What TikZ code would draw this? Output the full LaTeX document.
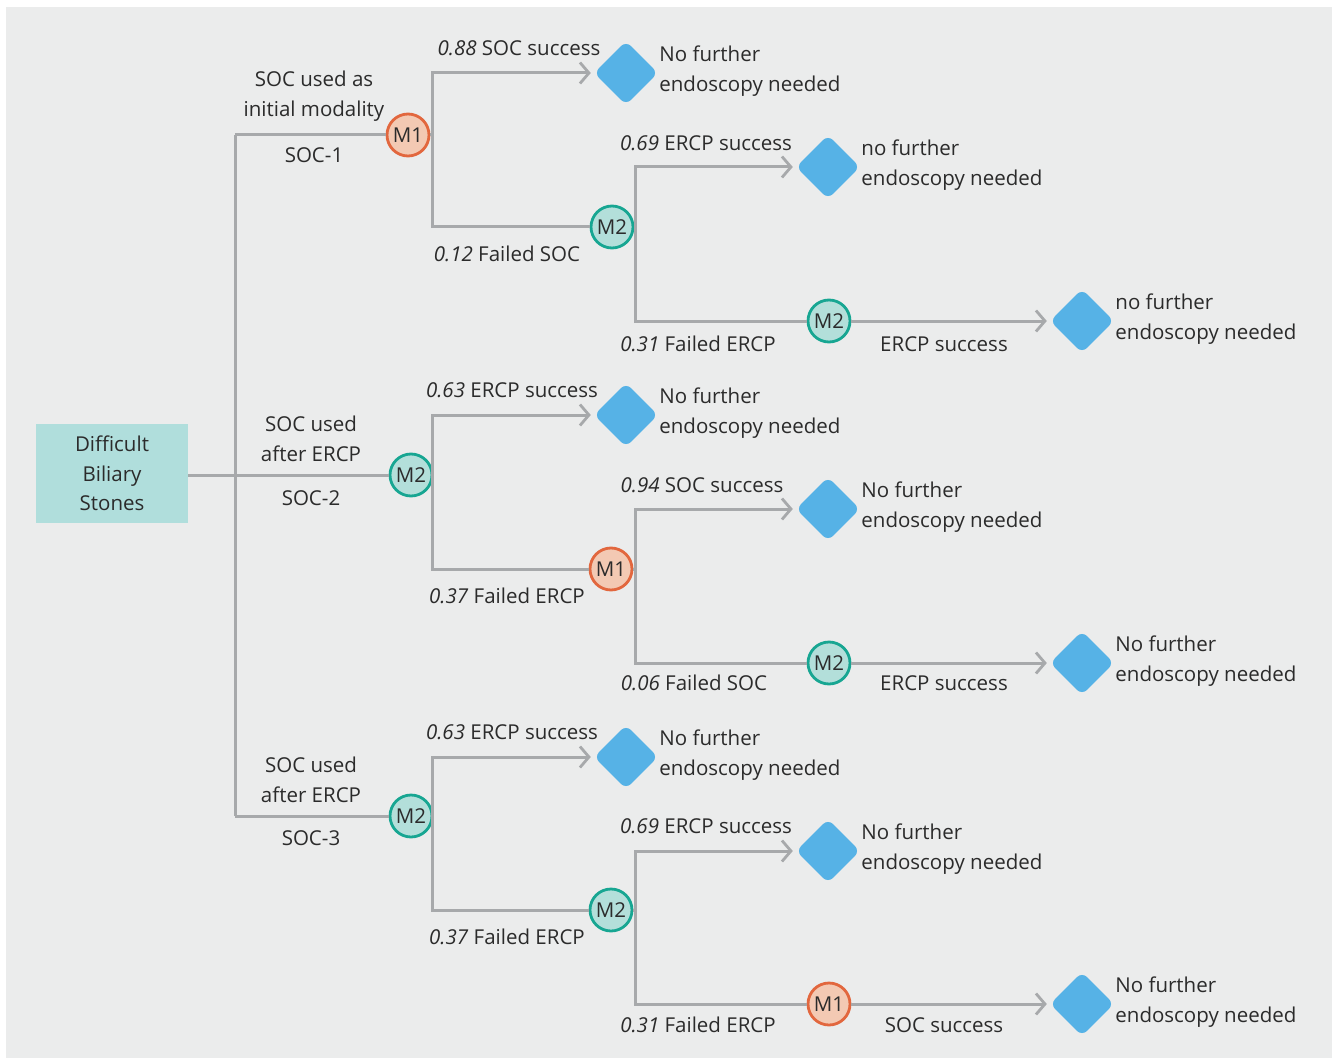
\documentclass[tikz,border=0pt]{standalone}
\usepackage{fontspec}
\setmainfont{Open Sans}
\usetikzlibrary{arrows.meta,shapes.geometric}
\definecolor{bgc}{HTML}{EBECEC}
\definecolor{boxc}{HTML}{B0DEDC}
\definecolor{linec}{HTML}{A7A9AB}
\definecolor{blu}{HTML}{56B2E6}
\definecolor{orng}{HTML}{E2673E}
\definecolor{orngf}{HTML}{F3C9B3}
\definecolor{teal}{HTML}{17A692}
\definecolor{tealf}{HTML}{B3DFDA}
\definecolor{txtc}{HTML}{2B2B2B}
\begin{document}
\begin{tikzpicture}[x=1pt,y=-1pt,
  font=\fontsize{20.5}{29.5}\selectfont,
  ln/.style={draw=linec, line width=3pt},
  arr/.style={ln, -{Straight Barb[length=9pt,width=21pt,line width=2.8pt]}, shorten >=3pt},
  mone/.style={circle, draw=orng, fill=orngf, line width=2.8pt, minimum size=42pt, inner sep=0pt, text=txtc},
  mtwo/.style={circle, draw=teal, fill=tealf, line width=2.8pt, minimum size=42pt, inner sep=0pt, text=txtc},
  dia/.style={diamond, fill=blu, minimum width=64pt, minimum height=64pt, inner sep=0pt, rounded corners=7pt},
  txt/.style={text=txtc, inner sep=0pt, align=center},
  outt/.style={text=txtc, inner sep=0pt, anchor=west, align=left, xshift=1pt, yshift=2pt}
]
\useasboundingbox (0,0) rectangle (1332,1059);
\fill[white] (0,0) rectangle (1332,1059);
\fill[bgc] (6,7) rectangle (1332,1058);

% root
\node[fill=boxc, minimum width=152pt, minimum height=99pt, inner sep=0pt, txt] (root) at (112,473.5) {Difficult\\Biliary\\Stones};

% trunk coordinates
\coordinate (t1) at (235,135);
\coordinate (t3) at (235,816);

% level 1 nodes
\node[mone] (a) at (408,135) {M1};
\node[mtwo] (b) at (411,475) {M2};
\node[mtwo] (c) at (411,816) {M2};

% level 2 nodes
\node[mtwo] (a2) at (612,227) {M2};
\node[mone] (b2) at (611,569) {M1};
\node[mtwo] (c2) at (611,910) {M2};

% level 3 nodes
\node[mtwo] (a3) at (829,321) {M2};
\node[mtwo] (b3) at (829,663) {M2};
\node[mone] (c3) at (829,1004) {M1};

% diamonds
\node[dia] (da1) at (626,73) {};
\node[dia] (da2) at (828,167) {};
\node[dia] (da3) at (1082,321) {};
\node[dia] (db1) at (626,415) {};
\node[dia] (db2) at (828,509) {};
\node[dia] (db3) at (1082,663) {};
\node[dia] (dc1) at (626,757) {};
\node[dia] (dc2) at (828,851) {};
\node[dia] (dc3) at (1082,1004) {};

% junction coordinates
\coordinate (ja) at (432,135);
\coordinate (jb) at (432,475);
\coordinate (jc) at (432,816);
\coordinate (ja2) at (635,227);
\coordinate (jb2) at (635,569);
\coordinate (jc2) at (635,910);

% connectors
\draw[ln] (t1) -- (t3);
\draw[ln] (t1) -- (a);
\draw[ln] (root.east |- b) -- (b);
\draw[ln] (t3) -- (c);

\draw[ln] (a) -- (ja);
\draw[arr] (ja) |- (da1.west);
\draw[ln] (ja) |- (a2);
\draw[ln] (a2) -- (ja2);
\draw[arr] (ja2) |- (da2.west);
\draw[ln] (ja2) |- (a3);
\draw[arr] (a3) -- (da3.west);

\draw[ln] (b) -- (jb);
\draw[arr] (jb) |- (db1.west);
\draw[ln] (jb) |- (b2);
\draw[ln] (b2) -- (jb2);
\draw[arr] (jb2) |- (db2.west);
\draw[ln] (jb2) |- (b3);
\draw[arr] (b3) -- (db3.west);

\draw[ln] (c) -- (jc);
\draw[arr] (jc) |- (dc1.west);
\draw[ln] (jc) |- (c2);
\draw[ln] (c2) -- (jc2);
\draw[arr] (jc2) |- (dc2.west);
\draw[ln] (jc2) |- (c3);
\draw[arr] (c3) -- (dc3.west);

% outcome texts
\node[outt] (oa1) at (da1.east) {No further\\endoscopy needed};
\node[outt] (oa2) at (da2.east) {no further\\endoscopy needed};
\node[outt] (oa3) at (da3.east) {no further\\endoscopy needed};
\node[outt] (ob1) at (db1.east) {No further\\endoscopy needed};
\node[outt] (ob2) at (db2.east) {No further\\endoscopy needed};
\node[outt] (ob3) at (db3.east) {No further\\endoscopy needed};
\node[outt] (oc1) at (dc1.east) {No further\\endoscopy needed};
\node[outt] (oc2) at (dc2.east) {No further\\endoscopy needed};
\node[outt] (oc3) at (dc3.east) {No further\\endoscopy needed};

% branch labels level 1
\node[txt] (la) at (314,96) {SOC used as\\initial modality};
\node[txt] (la2) at (314,155) {SOC-1};
\node[txt] (lb) at (311,439) {SOC used\\after ERCP};
\node[txt] (lb2) at (311,498) {SOC-2};
\node[txt] (lc) at (311,780) {SOC used\\after ERCP};
\node[txt] (lc2) at (311,838) {SOC-3};

% edge labels
\node[txt] (ea1) at (519,48) {\textit{0.88} SOC success};
\node[txt] (ea2) at (507,254) {\textit{0.12} Failed SOC};
\node[txt] (ea3) at (706,143) {\textit{0.69} ERCP success};
\node[txt] (ea4) at (698,344) {\textit{0.31} Failed ERCP};
\node[txt] (ea5) at (944,344) {ERCP success};

\node[txt] (eb1) at (512,390) {\textit{0.63} ERCP success};
\node[txt] (eb2) at (507,596) {\textit{0.37} Failed ERCP};
\node[txt] (eb3) at (702,485) {\textit{0.94} SOC success};
\node[txt] (eb4) at (694,683) {\textit{0.06} Failed SOC};
\node[txt] (eb5) at (944,683) {ERCP success};

\node[txt] (ec1) at (512,732) {\textit{0.63} ERCP success};
\node[txt] (ec2) at (507,937) {\textit{0.37} Failed ERCP};
\node[txt] (ec3) at (706,826) {\textit{0.69} ERCP success};
\node[txt] (ec4) at (698,1025) {\textit{0.31} Failed ERCP};
\node[txt] (ec5) at (944,1025) {SOC success};
\end{tikzpicture}
\end{document}
